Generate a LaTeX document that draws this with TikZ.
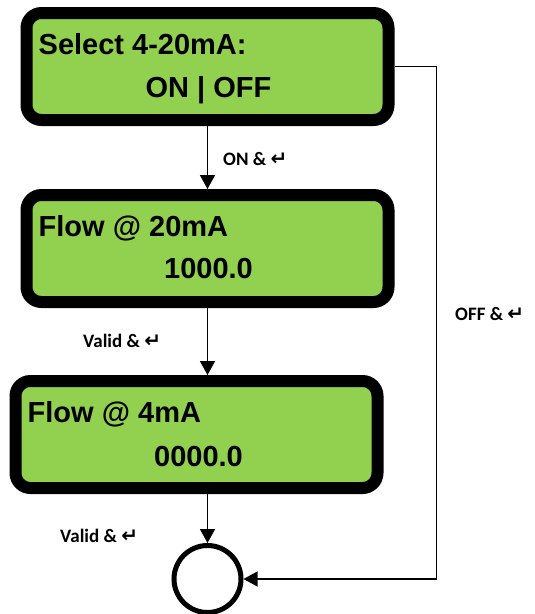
\documentclass[tikz,border=0pt]{standalone}
\usepackage{fontspec}
\usepackage{tikz}
\usetikzlibrary{arrows.meta, positioning}
\newfontfamily\lcdfont{Liberation Sans}
\newfontfamily\lblfont{Carlito}
\newfontfamily\symfont{DejaVu Sans}
\newcommand{\retkey}{{\symfont\bfseries\fontsize{20}{20}\selectfont ↵}}
\definecolor{lcdgreen}{HTML}{92D050}

\begin{document}
\begin{tikzpicture}[x=1pt, y=1pt,
  lcd/.style={draw, fill=lcdgreen, line width=12pt, rounded corners=15pt,
    minimum width=362pt, minimum height=107pt},
  lcdtext/.style={inner sep=0pt, font=\lcdfont\bfseries\fontsize{29}{29}\selectfont},
  lbl/.style={inner sep=0pt, font=\lblfont\bfseries\fontsize{19}{19}\selectfont},
  endpt/.style={draw, circle, line width=5pt, minimum size=67pt},
  arrow/.style={-{Triangle[length=14pt, width=15pt]}, line width=1.5pt},
  loop/.style={-{Triangle[length=14pt, width=15pt]}, line width=1.3pt}
]
\useasboundingbox (0,0) rectangle (535,-614);
\node[lcd] (b1) at (207.5,-66.5) {};
\node[lcd, below=63pt of b1] (b2) {};
\node[lcd, below=67pt of b2, xshift=-11pt] (b3) {};
\node[endpt] (done) at (207.5,-579) {};
% display texts
\node[lcdtext, anchor=base west] (b1t) at ([shift={(18,-47)}]b1.north west) {Select 4-20mA:};
\node[lcdtext, anchor=base] (b1v) at ([shift={(1,-90)}]b1.north) {ON | OFF};
\node[lcdtext, anchor=base west] (b2t) at ([shift={(18,-47)}]b2.north west) {Flow @ 20mA};
\node[lcdtext, anchor=base] (b2v) at ([shift={(1,-89)}]b2.north) {1000.0};
\node[lcdtext, anchor=base west] (b3t) at ([shift={(18,-47)}]b3.north west) {Flow @ 4mA};
\node[lcdtext, anchor=base] (b3v) at ([shift={(2,-91)}]b3.north) {0000.0};
% connectors
\draw[arrow] (b1.south) -- (b1.south |- b2.north);
\draw[arrow] (b2.south) -- (b2.south |- b3.north);
\draw[arrow] (b3.south -| done.north) -- (done.north);
\draw[loop] (b1.east) -- ++(42,0) |- (done.east);
% labels
\node[lbl, anchor=base west] (on) at (223,-165) {ON \& \retkey};
\node[lbl, anchor=base west] (valid1) at (83,-347) {Valid \& \retkey};
\node[lbl, anchor=base west] (valid2) at (60,-542) {Valid \& \retkey};
\node[lbl, anchor=base west] (off) at (455,-320) {OFF \& \retkey};
\end{tikzpicture}
\end{document}
